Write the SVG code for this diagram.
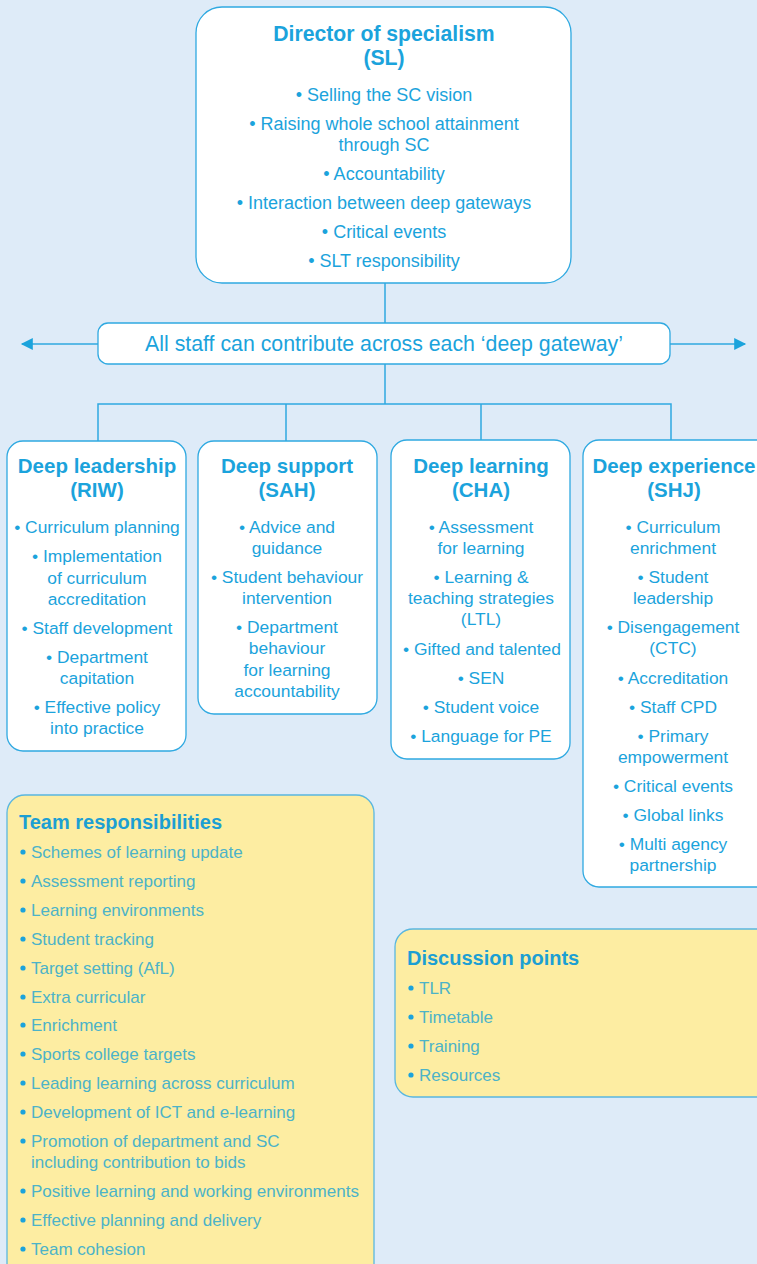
<svg xmlns="http://www.w3.org/2000/svg" width="757" height="1264" viewBox="0 0 757 1264">
<defs>
<style>
.bg{fill:#deebf8}
.box{fill:#ffffff;stroke:#2fa9e1;stroke-width:1.3}
.ybox{fill:#fdeda2;stroke:#5ab7df;stroke-width:1.3}
.t{font-family:"Liberation Sans",Arial,sans-serif;fill:#1ba3dc}
.h{font-size:20.5px;font-weight:bold;text-anchor:middle}
.b{font-size:17.4px;text-anchor:middle}
.top{font-size:18px}
.yh{font-size:20px;font-weight:bold;fill:#1c9fd3}
.yb{font-size:17px;fill:#4cb3c8}
.dot{fill:#1ba3dc}
.ln{stroke:#2fa9e1;stroke-width:1.5;fill:none}
</style>
<marker id="ah" viewBox="0 0 10 10" refX="9" refY="5" markerWidth="16" markerHeight="12" markerUnits="userSpaceOnUse" orient="auto">
<path d="M0,0 L10,5 L0,10 z" fill="#1ba3dc"/>
</marker>
</defs>
<rect class="bg" x="0" y="0" width="757" height="1264"/>

<g id="connectors">
<line class="ln" x1="385" y1="283" x2="385" y2="323"/>
<line class="ln" x1="385" y1="364" x2="385" y2="404"/>
<line class="ln" x1="98" y1="344" x2="22" y2="344" marker-end="url(#ah)"/>
<line class="ln" x1="670" y1="344" x2="745" y2="344" marker-end="url(#ah)"/>
<polyline class="ln" points="98,441 98,404 671,404 671,441"/>
<line class="ln" x1="286" y1="404" x2="286" y2="441"/>
<line class="ln" x1="481" y1="404" x2="481" y2="441"/>
</g>

<g id="director">
<rect class="box" x="196" y="7" width="375" height="276" rx="26"/>
<text class="t h" x="384" y="41" style="font-size:21.2px">Director of specialism</text>
<text class="t h" x="384" y="65" style="font-size:21.2px">(SL)</text>
<text class="t b top" x="384" y="101">• Selling the SC vision</text>
<text class="t b top" x="384" y="130">• Raising whole school attainment</text>
<text class="t b top" x="384" y="151">through SC</text>
<text class="t b top" x="384" y="180">• Accountability</text>
<text class="t b top" x="384" y="209">• Interaction between deep gateways</text>
<text class="t b top" x="384" y="238">• Critical events</text>
<text class="t b top" x="384" y="267">• SLT responsibility</text>
</g>

<g id="allstaff">
<rect class="box" x="98" y="323" width="572" height="41" rx="10"/>
<text class="t b" x="384" y="351" style="font-size:21.3px">All staff can contribute across each ‘deep gateway’</text>
</g>

<g id="leadership">
<rect class="box" x="7" y="441" width="179" height="310" rx="16"/>
<text class="t h" x="97" y="473">Deep leadership</text>
<text class="t h" x="97" y="497">(RIW)</text>
<text class="t b" x="97" y="533">• Curriculum planning</text>
<text class="t b" x="97" y="562">• Implementation</text>
<text class="t b" x="97" y="584">of curriculum</text>
<text class="t b" x="97" y="605">accreditation</text>
<text class="t b" x="97" y="634">• Staff development</text>
<text class="t b" x="97" y="663">• Department</text>
<text class="t b" x="97" y="684">capitation</text>
<text class="t b" x="97" y="713">• Effective policy</text>
<text class="t b" x="97" y="734">into practice</text>
</g>

<g id="support">
<rect class="box" x="198" y="441" width="179" height="273" rx="16"/>
<text class="t h" x="287" y="473">Deep support</text>
<text class="t h" x="287" y="497">(SAH)</text>
<text class="t b" x="287" y="533">• Advice and</text>
<text class="t b" x="287" y="554">guidance</text>
<text class="t b" x="287" y="583">• Student behaviour</text>
<text class="t b" x="287" y="604">intervention</text>
<text class="t b" x="287" y="633">• Department</text>
<text class="t b" x="287" y="654">behaviour</text>
<text class="t b" x="287" y="676">for learning</text>
<text class="t b" x="287" y="697">accountability</text>
</g>

<g id="learning">
<rect class="box" x="391" y="440" width="179" height="319" rx="16"/>
<text class="t h" x="481" y="473">Deep learning</text>
<text class="t h" x="481" y="497">(CHA)</text>
<text class="t b" x="481" y="533">• Assessment</text>
<text class="t b" x="481" y="554">for learning</text>
<text class="t b" x="481" y="583">• Learning &amp;</text>
<text class="t b" x="481" y="604">teaching strategies</text>
<text class="t b" x="481" y="625">(LTL)</text>
<text class="t b" x="482" y="655">• Gifted and talented</text>
<text class="t b" x="481" y="684">• SEN</text>
<text class="t b" x="481" y="713">• Student voice</text>
<text class="t b" x="481" y="742">• Language for PE</text>
</g>

<g id="experience">
<rect class="box" x="583" y="440" width="190" height="447" rx="16"/>
<text class="t h" x="674" y="473">Deep experience</text>
<text class="t h" x="674" y="497">(SHJ)</text>
<text class="t b" x="673" y="533">• Curriculum</text>
<text class="t b" x="673" y="554">enrichment</text>
<text class="t b" x="673" y="583">• Student</text>
<text class="t b" x="673" y="604">leadership</text>
<text class="t b" x="673" y="633">• Disengagement</text>
<text class="t b" x="673" y="654">(CTC)</text>
<text class="t b" x="673" y="684">• Accreditation</text>
<text class="t b" x="673" y="713">• Staff CPD</text>
<text class="t b" x="673" y="742">• Primary</text>
<text class="t b" x="673" y="763">empowerment</text>
<text class="t b" x="673" y="792">• Critical events</text>
<text class="t b" x="673" y="821">• Global links</text>
<text class="t b" x="673" y="850">• Multi agency</text>
<text class="t b" x="673" y="871">partnership</text>
</g>

<g id="team">
<rect class="ybox" x="7" y="795" width="367" height="490" rx="18"/>
<text class="t yh" x="19" y="829">Team responsibilities</text>
<g class="dot">
<circle cx="23" cy="852" r="2.6"/><circle cx="23" cy="881" r="2.6"/><circle cx="23" cy="910" r="2.6"/><circle cx="23" cy="939" r="2.6"/><circle cx="23" cy="968" r="2.6"/><circle cx="23" cy="997" r="2.6"/><circle cx="23" cy="1025" r="2.6"/><circle cx="23" cy="1054" r="2.6"/><circle cx="23" cy="1083" r="2.6"/><circle cx="23" cy="1112" r="2.6"/><circle cx="23" cy="1141" r="2.6"/><circle cx="23" cy="1191" r="2.6"/><circle cx="23" cy="1220" r="2.6"/><circle cx="23" cy="1249" r="2.6"/>
</g>
<text class="t yb" x="31" y="858">Schemes of learning update</text>
<text class="t yb" x="31" y="887">Assessment reporting</text>
<text class="t yb" x="31" y="916">Learning environments</text>
<text class="t yb" x="31" y="945">Student tracking</text>
<text class="t yb" x="31" y="974">Target setting (AfL)</text>
<text class="t yb" x="31" y="1003">Extra curricular</text>
<text class="t yb" x="31" y="1031">Enrichment</text>
<text class="t yb" x="31" y="1060">Sports college targets</text>
<text class="t yb" x="31" y="1089">Leading learning across curriculum</text>
<text class="t yb" x="31" y="1118">Development of ICT and e-learning</text>
<text class="t yb" x="31" y="1147">Promotion of department and SC</text>
<text class="t yb" x="31" y="1168">including contribution to bids</text>
<text class="t yb" x="31" y="1197">Positive learning and working environments</text>
<text class="t yb" x="31" y="1226">Effective planning and delivery</text>
<text class="t yb" x="31" y="1255">Team cohesion</text>
</g>

<g id="discussion">
<rect class="ybox" x="395" y="929" width="380" height="168" rx="18"/>
<text class="t yh" x="407" y="965">Discussion points</text>
<g class="dot">
<circle cx="411" cy="988" r="2.6"/><circle cx="411" cy="1017" r="2.6"/><circle cx="411" cy="1046" r="2.6"/><circle cx="411" cy="1075" r="2.6"/>
</g>
<text class="t yb" x="419" y="994">TLR</text>
<text class="t yb" x="419" y="1023">Timetable</text>
<text class="t yb" x="419" y="1052">Training</text>
<text class="t yb" x="419" y="1081">Resources</text>
</g>
</svg>
